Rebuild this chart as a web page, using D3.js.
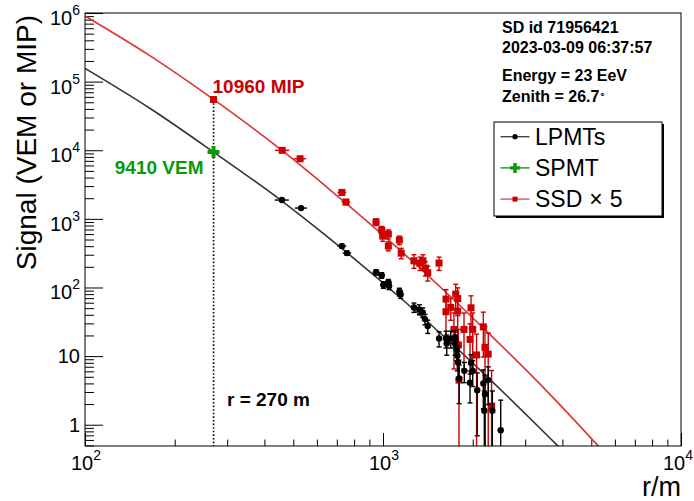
<!DOCTYPE html>
<html>
<head>
<meta charset="utf-8">
<script src="https://cdn.jsdelivr.net/npm/d3@7"></script>
<style>
  html, body { margin: 0; padding: 0; background: #fff; }
  #ldf-chart svg { display: block; font-family: "Liberation Sans", Arial, Helvetica, sans-serif; }
</style>
</head>
<body>
<div id="ldf-chart"></div>
<script>
// LPMT signals (VEM) vs distance to the shower axis
const lpmtR = [458, 531, 728, 757, 948, 990, 1003, 1042, 1048, 1135, 1146, 1270, 1324, 1359, 1383, 1413,
  1542, 1627, 1636, 1688, 1745, 1745, 1767, 1776, 1786, 1800, 1874, 1974, 2000, 1959, 2071, 2171, 2199,
  2255, 2188, 2328, 2483];
const lpmtVem = [1879, 1436, 401, 317, 167, 150, 109, 119, 105, 86.5, 79.3, 51.3, 48, 43.4, 34.6, 27.4,
  18.1, 18.1, 15.3, 18.1, 18.5, 15.3, 12.5, 10.1, 8.1, 4.73, 6.1, 8.0, 6.1, 4.08, 3.19, 4.0, 2.79,
  4.47, 1.6, 1.6, 0.83];
const lpmtErr = [60, 55, 25, 22, 15, 14, 12, 12, 12, 11, 10, 8, 8, 7, 6, 6,
  4.5, 5, 5, 5, 5, 5, 4, 4, 3.5, 2.7, 2, 2.5, 2.5, 2, 2.5, 2.3, 2.5,
  2.5, 1.5, 1.5, 1.45];

// SSD signals (MIP), drawn multiplied by ssdScale
const ssdR = [270, 459, 527, 728, 751, 948, 990, 998, 1042, 1042, 1135, 1151, 1270, 1331, 1362, 1387,
  1413, 1542, 1627, 1627, 1688, 1754, 1781, 1781, 1730, 1791, 1799, 1870, 1974, 2000, 1959, 2061,
  2171, 2199, 2255, 2314];
const ssdMip = [10960, 1994, 1504, 486, 352, 180, 137, 112, 120, 80.2, 98.2, 63.4, 49, 45.4, 49, 38.4,
  32.8, 45.4, 13.56, 8.86, 10.26, 16.04, 13.78, 9.06, 4.9, 2.9, 0.894, 4.9, 10.12, 4.9, 3.5, 2.08,
  5.34, 2.68, 2.14, 0.374];
const ssdErr = [600, 100, 90, 40, 30, 20, 18, 18, 18, 12, 14, 11, 11, 10, 11, 9,
  8, 10, 5, 5, 3.6, 6.2, 6, 6, 3.6, 2, 0.86, 3.6, 5, 3.6, 2.4, 2.1,
  3.4, 2.7, 2.2, 0.86];
const ssdScale = 5;
const rErr = 25;

// SPMT signal of the station closest to the core
const spmtR = [270];
const spmtVem = [9410];

// fitted lateral distribution functions
const ldfVemR = [100, 165, 270, 457, 664, 1140, 1722, 2171, 3365, 3846, 4581];
const ldfVem = [156000, 40950, 9410, 1830, 511, 71.5, 14.5, 5.65, 0.89, 0.50, 0.24];
const ldfSsdR = [100, 165, 270, 457, 664, 1140, 1722, 2171, 3365, 5254, 6237];
const ldfSsdMip = [180800, 47800, 11000, 2000, 530, 70.2, 13.46, 5.12, 0.782, 0.10, 0.044];

const xTickLabels = [[100, "10", "2"], [1000, "10", "3"], [10000, "10", "4"]];
const yTickLabels = [[1, "1", ""], [10, "10", ""], [1e2, "10", "2"], [1e3, "10", "3"],
  [1e4, "10", "4"], [1e5, "10", "5"], [1e6, "10", "6"]];

const infoLines = ["SD id 71956421", "2023-03-09 06:37:57", "Energy = 23 EeV", "Zenith = 26.7"];

(function drawLdf() {
  const width = 694;
  const height = 501;
  const plotL = 85, plotR = 681, plotT = 13, plotB = 446;

  const red = "#cc0000";
  const redLine = "#dd3333";
  const green = "#089a08";
  const black = "#000";

  const svg = d3.select("#ldf-chart")
    .append("svg")
    .attr("width", width)
    .attr("height", height)
    .attr("viewBox", `0 0 ${width} ${height}`);

  const x = d3.scaleLog().domain([100, 10000]).range([plotL, plotR]);
  const y = d3.scaleLog().domain([Math.pow(10, -0.31), 1e6]).range([plotB, plotT]);

  svg.append("clipPath").attr("id", "plot-clip")
    .append("rect")
    .attr("x", plotL).attr("y", plotT)
    .attr("width", plotR - plotL).attr("height", plotB - plotT);

  // minor ticks 2..9 of every decade in the domain
  const minorTicks = (scale) => {
    const [a, b] = scale.domain();
    const out = [];
    for (let e = Math.floor(Math.log10(a)); e <= Math.ceil(Math.log10(b)); e++) {
      for (let k = 2; k <= 9; k++) {
        const v = k * Math.pow(10, e);
        if (v >= a && v <= b) out.push(v);
      }
    }
    return out;
  };

  const axisG = svg.append("g").attr("class", "axes");
  axisG.append("g")
    .attr("transform", `translate(0,${plotB})`)
    .call(d3.axisBottom(x).tickValues(minorTicks(x)).tickSize(-6.5).tickFormat("").tickSizeOuter(0));
  axisG.append("g")
    .attr("transform", `translate(0,${plotB})`)
    .call(d3.axisBottom(x).tickValues(xTickLabels.map((d) => d[0])).tickSize(-13).tickFormat("").tickSizeOuter(0));
  axisG.append("g")
    .attr("transform", `translate(${plotL},0)`)
    .call(d3.axisLeft(y).tickValues(minorTicks(y)).tickSize(-9).tickFormat("").tickSizeOuter(0));
  axisG.append("g")
    .attr("transform", `translate(${plotL},0)`)
    .call(d3.axisLeft(y).tickValues(yTickLabels.map((d) => d[0])).tickSize(-18).tickFormat("").tickSizeOuter(0));
  axisG.selectAll(".domain").remove();
  axisG.selectAll(".tick line").attr("stroke", black).attr("stroke-width", 1);

  // tick labels
  const xLab = svg.append("g").selectAll("text")
    .data(xTickLabels)
    .join("text")
    .attr("x", (d) => Math.min(x(d[0]) + 1, width - 16))
    .attr("y", 470)
    .attr("text-anchor", "middle")
    .attr("font-size", 20);
  xLab.append("tspan").text((d) => d[1]);
  xLab.append("tspan").attr("font-size", 14).attr("dy", -10).text((d) => d[2]);

  const yLab = svg.append("g").selectAll("text")
    .data(yTickLabels)
    .join("text")
    .attr("x", 80)
    .attr("y", (d) => y(d[0]) + (d[2] ? 12 : 7))
    .attr("text-anchor", "end")
    .attr("font-size", 20);
  yLab.append("tspan").text((d) => d[1]);
  yLab.filter((d) => d[2]).append("tspan").attr("font-size", 14).attr("dy", -10).text((d) => d[2]);

  // axis titles
  svg.append("text")
    .attr("transform", `translate(36,15) rotate(-90)`)
    .attr("text-anchor", "end")
    .attr("font-size", 28)
    .text("Signal (VEM or MIP)");
  svg.append("text")
    .attr("x", plotR)
    .attr("y", 496)
    .attr("text-anchor", "end")
    .attr("font-size", 27)
    .text("r/m");

  const plot = svg.append("g").attr("clip-path", "url(#plot-clip)");

  // fitted LDFs
  const ldfLine = d3.line()
    .x((d) => x(d[0]))
    .y((d) => y(d[1]))
    .curve(d3.curveMonotoneX);

  plot.append("path")
    .datum(ldfSsdR.map((r, i) => [r, ldfSsdMip[i] * ssdScale]))
    .attr("d", ldfLine)
    .attr("fill", "none")
    .attr("stroke", redLine)
    .attr("stroke-width", 1.6);
  plot.append("path")
    .datum(ldfVemR.map((r, i) => [r, ldfVem[i]]))
    .attr("d", ldfLine)
    .attr("fill", "none")
    .attr("stroke", "#333")
    .attr("stroke-width", 1.6);

  // r = 270 m marker line
  plot.append("line")
    .attr("x1", x(spmtR[0])).attr("x2", x(spmtR[0]))
    .attr("y1", y(ssdMip[0] * ssdScale)).attr("y2", plotB)
    .attr("stroke", black)
    .attr("stroke-width", 1.6)
    .attr("stroke-dasharray", "1.6,2");

  function drawErrors(g, pts, color) {
    const cap = 2.5;
    const eg = g.append("g").attr("stroke", color).attr("stroke-width", 1.4).attr("fill", "none");
    pts.forEach((p) => {
      const cx = x(p.r);
      const yHi = y(p.s + p.e);
      const yLo = y(Math.max(p.s - p.e, 1e-4));
      eg.append("line").attr("x1", cx).attr("x2", cx).attr("y1", yHi).attr("y2", yLo);
      eg.append("line").attr("x1", cx - cap).attr("x2", cx + cap).attr("y1", yHi).attr("y2", yHi);
      eg.append("line").attr("x1", cx - cap).attr("x2", cx + cap).attr("y1", yLo).attr("y2", yLo);
      if (p.ex > 0) {
        const cy = y(p.s);
        eg.append("line").attr("x1", x(p.r - p.ex)).attr("x2", x(p.r + p.ex)).attr("y1", cy).attr("y2", cy);
      }
    });
  }

  const ssdPts = ssdR.map((r, i) => ({
    r, s: ssdMip[i] * ssdScale, e: ssdErr[i] * ssdScale, ex: i === 0 ? 0 : rErr,
  }));
  const lpmtPts = lpmtR.map((r, i) => ({ r, s: lpmtVem[i], e: lpmtErr[i], ex: rErr }));

  // SSD x 5
  drawErrors(plot, ssdPts, red);
  plot.append("g").selectAll("rect")
    .data(ssdPts)
    .join("rect")
    .attr("x", (d) => x(d.r) - 3.5)
    .attr("y", (d) => y(d.s) - 3.5)
    .attr("width", 7)
    .attr("height", 7)
    .attr("fill", red);

  // LPMTs
  drawErrors(plot, lpmtPts, black);
  plot.append("g").selectAll("circle")
    .data(lpmtPts)
    .join("circle")
    .attr("cx", (d) => x(d.r))
    .attr("cy", (d) => y(d.s))
    .attr("r", 3.2)
    .attr("fill", black);

  // SPMT
  const crossPath = (s, t) =>
    `M${-s},${-t}H${-t}V${-s}H${t}V${-t}H${s}V${t}H${t}V${s}H${-t}V${t}H${-s}Z`;
  plot.append("g").selectAll("path")
    .data(spmtR.map((r, i) => [r, spmtVem[i]]))
    .join("path")
    .attr("transform", (d) => `translate(${x(d[0])},${y(d[1])})`)
    .attr("d", crossPath(6, 2))
    .attr("fill", green);

  // frame
  svg.append("rect")
    .attr("x", plotL).attr("y", plotT)
    .attr("width", plotR - plotL).attr("height", plotB - plotT)
    .attr("fill", "none")
    .attr("stroke", black)
    .attr("stroke-width", 1);

  // annotations
  svg.append("text")
    .attr("x", x(spmtR[0]) - 1)
    .attr("y", 93)
    .attr("font-size", 19)
    .attr("font-weight", "bold")
    .attr("fill", red)
    .text(`${ssdMip[0]} MIP`);
  svg.append("text")
    .attr("x", 203.5)
    .attr("y", 174)
    .attr("text-anchor", "end")
    .attr("font-size", 19)
    .attr("font-weight", "bold")
    .attr("fill", green)
    .text(`${spmtVem[0]} VEM`);
  svg.append("text")
    .attr("x", 227)
    .attr("y", 405.5)
    .attr("font-size", 19)
    .attr("font-weight", "bold")
    .attr("fill", black)
    .text(`r = ${spmtR[0]} m`);

  // event info
  const infoY = [32.5, 53, 81, 101.5];
  infoLines.forEach((t, i) => {
    const txt = svg.append("text")
      .attr("x", 502)
      .attr("y", infoY[i])
      .attr("font-size", 16)
      .attr("font-weight", "bold")
      .text(t);
    if (i === 3) {
      txt.append("tspan").attr("font-weight", "normal").attr("font-size", 11).attr("dy", -4).text("\u2218");
    }
  });

  // legend
  const legend = svg.append("g").attr("transform", "translate(494,122)");
  legend.append("rect")
    .attr("x", 2).attr("y", 2).attr("width", 168).attr("height", 94)
    .attr("fill", "#000");
  legend.append("rect")
    .attr("x", 0).attr("y", 0).attr("width", 168).attr("height", 94)
    .attr("fill", "#fff").attr("stroke", black).attr("stroke-width", 1);

  const legendItems = [
    { label: ["LPMTs"], line: "#444", color: black, kind: "circle" },
    { label: ["SPMT"], line: green, color: green, kind: "cross" },
    { label: ["SSD", "\u00d7", "5"], line: "#e05555", color: red, kind: "square" },
  ];
  const row = legend.selectAll("g.row")
    .data(legendItems)
    .join("g")
    .attr("class", "row")
    .attr("transform", (d, i) => `translate(0,${14.7 + i * 31.2})`);
  row.append("line")
    .attr("x1", 6.5).attr("x2", 35.5)
    .attr("stroke", (d) => d.line)
    .attr("stroke-width", 1.4);
  row.filter((d) => d.kind === "circle").append("circle")
    .attr("cx", 21).attr("r", 2.6).attr("fill", (d) => d.color);
  row.filter((d) => d.kind === "cross").append("path")
    .attr("transform", "translate(21,0)")
    .attr("d", crossPath(5, 1.7))
    .attr("fill", (d) => d.color);
  row.filter((d) => d.kind === "square").append("rect")
    .attr("x", 18.5).attr("y", -2.5).attr("width", 5).attr("height", 5)
    .attr("fill", (d) => d.color);
  row.append("text")
    .attr("x", 41)
    .attr("y", 8)
    .attr("font-size", 23)
    .selectAll("tspan")
    .data((d) => d.label)
    .join("tspan")
    .attr("dx", (d, i) => (i === 0 ? 0 : 7))
    .text((d) => d);
})();
</script>
</body>
</html>
